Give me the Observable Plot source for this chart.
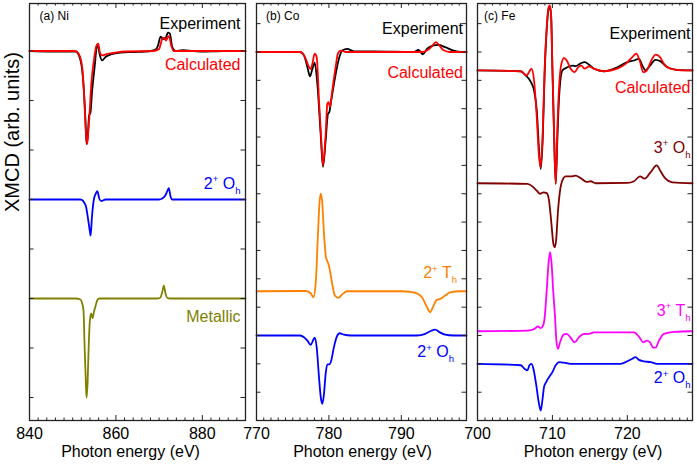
<!DOCTYPE html>
<html><head><meta charset="utf-8">
<script src="https://cdn.jsdelivr.net/npm/d3@7"></script>
<script src="https://cdn.jsdelivr.net/npm/@observablehq/plot@0.6"></script>
<style>
html,body{margin:0;padding:0;background:#fff;}
#chart{position:relative;width:697px;height:467px;overflow:hidden;font-family:"Liberation Sans",Arial,sans-serif;}
#chart svg{position:absolute;top:0;}
</style></head><body><div id="chart"></div>
<script>
// ---------- (a) Ni : [photon energy (eV), XMCD (arb.)] ----------
const niExperiment = [[840,7.0],[845,6.99],[850.7,6.99],[851.4,6.92],[852.2,6.61],[852.6,6.2],[853.0,5.5],[853.2,5.12],[853.5,5.3],[853.8,5.7],[854.1,5.75],[854.5,6.2],[855.1,6.7],[855.5,7.05],[855.8,7.14],[856.2,6.95],[856.8,6.81],[857.6,6.88],[858.8,6.93],[861.1,6.97],[864.2,6.98],[868,7.0],[869.2,7.03],[869.7,7.1],[870.35,7.29],[871.0,7.24],[871.5,7.26],[872.05,7.37],[872.5,7.35],[873.05,7.08],[873.8,7.0],[875.4,7.02],[879.6,6.99],[885,7.0],[890,7.0]];
const niCalculated = [[840,7.0],[850.5,7.0],[851.4,6.94],[852.2,6.67],[852.7,6.0],[853.1,5.3],[853.35,5.12],[853.6,5.35],[853.85,5.66],[854.3,6.33],[854.9,6.81],[855.5,7.11],[855.9,7.15],[856.3,6.97],[856.8,6.91],[858,6.94],[859.5,6.96],[862,6.99],[868.8,7.0],[870.0,7.04],[870.7,7.24],[871.2,7.27],[871.6,7.21],[872.0,7.28],[872.3,7.3],[872.8,7.11],[873.4,7.0],[890,7.0]];
const niOh2 = [[840,4.0],[851.8,4.0],[853.0,3.88],[853.5,3.64],[854.0,3.34],[854.15,3.27],[854.45,3.64],[854.9,4.0],[855.3,4.11],[855.7,4.17],[856.15,4.02],[856.6,3.97],[857.6,4.0],[870.0,4.0],[870.7,4.02],[871.5,4.09],[872.0,4.19],[872.25,4.23],[872.65,4.06],[873.05,4.0],[890,4.0]];
const niMetallic = [[840,2.0],[850.7,2.0],[851.8,1.98],[852.2,1.9],[852.5,1.76],[852.74,1.08],[853.05,0.28],[853.21,0.0],[853.44,0.28],[853.67,0.95],[853.98,1.56],[854.28,1.7],[854.6,1.6],[854.9,1.72],[855.3,1.85],[855.7,1.97],[856.15,2.0],[869.5,2.0],[870.2,2.01],[870.74,2.13],[871.1,2.26],[871.5,2.09],[871.9,2.01],[872.5,2.0],[890,2.0]];
const niMajorTicks = [840, 860, 880];
const niLabelText = ["Experiment", "Calculated", "2^{+} O_{h}", "Metallic"];

// ---------- (b) Co ----------
const coExperiment = [[770,12],[776.0,12.0],[776.56,11.88],[777.03,11.46],[777.39,11.14],[777.71,11.4],[778.03,11.62],[778.4,10.88],[778.86,9.11],[779.18,7.95],[779.55,8.88],[779.87,9.82],[780.05,9.88],[780.32,10.29],[780.78,11.0],[781.38,11.76],[781.84,12.05],[782.53,12.11],[783.44,12.02],[786.2,12.02],[791.7,12.0],[792.38,12.07],[792.98,11.92],[793.54,12.11],[794.45,12.23],[795.13,12.25],[796.05,12.17],[797.2,12.05],[798.35,12.0],[799,12.0]];
const coCalculated = [[770,12],[776.0,12.0],[776.34,11.96],[776.8,11.76],[777.25,11.46],[777.48,11.4],[777.71,11.58],[778.03,11.94],[778.31,11.82],[778.63,10.29],[778.95,8.88],[779.18,8.0],[779.55,9.11],[779.78,10.17],[779.96,10.23],[780.14,10.05],[780.46,10.64],[780.92,11.46],[781.24,11.94],[781.61,12.05],[782.3,12.0],[791.7,12.0],[792.85,12.0],[793.54,12.05],[794.2,12.19],[794.77,12.35],[795.13,12.27],[795.8,12.07],[796.7,12.0],[799,12.0]];
const coTh2 = [[770,3.56],[776.8,3.57],[777.48,3.49],[777.85,3.35],[778.17,3.82],[778.49,5.59],[778.72,6.76],[778.9,7.0],[779.09,6.65],[779.32,5.59],[779.59,4.76],[779.92,4.53],[780.14,4.29],[780.46,3.82],[780.82,3.41],[781.29,3.33],[781.84,3.45],[782.53,3.56],[789.86,3.56],[791.7,3.52],[792.85,3.35],[793.54,3.0],[793.99,2.82],[794.36,3.0],[794.91,3.26],[795.36,3.29],[796.05,3.41],[796.74,3.52],[798.1,3.56],[799,3.56]];
const coOh2 = [[770,2.0],[776.0,2.0],[776.56,1.94],[777.03,1.82],[777.48,1.67],[777.85,1.85],[778.03,1.92],[778.31,1.59],[778.63,0.53],[778.9,-0.23],[779.09,-0.41],[779.32,-0.06],[779.55,0.65],[779.78,0.98],[780.05,0.98],[780.32,1.12],[780.69,1.59],[781.16,2.0],[781.47,2.08],[782.07,2.03],[783,2.0],[792.16,2.0],[793.3,2.06],[793.99,2.15],[794.68,2.21],[795.27,2.12],[796.05,2.03],[797.2,2.0],[799,2.0]];
const coMajorTicks = [770, 780, 790];
const coLabelText = ["Experiment", "Calculated", "2^{+} T_{h}", "2^{+} O_{h}"];

// ---------- (c) Fe ----------
const feExperiment = [[700,11.35],[705.77,11.32],[706.44,11.17],[706.88,11.05],[707.2,10.9],[707.55,10.64],[707.91,9.94],[708.22,8.53],[708.44,7.88],[708.7,8.9],[708.97,11.3],[709.24,12.8],[709.47,13.5],[709.64,13.6],[709.82,13.3],[710.0,11.4],[710.22,9.1],[710.44,7.35],[710.67,9.0],[710.89,10.41],[711.33,11.35],[712.0,11.46],[712.67,11.52],[713.1,11.5],[713.77,11.6],[714.31,11.64],[714.89,11.55],[715.55,11.41],[716.89,11.32],[718.67,11.46],[720.0,11.64],[720.89,11.7],[721.55,11.76],[722.0,11.52],[722.44,11.35],[723.02,11.52],[723.77,11.72],[724.44,11.67],[725.33,11.46],[726.67,11.37],[728.7,11.35]];
const feCalculated = [[700,11.35],[705.77,11.32],[706.57,11.17],[706.88,11.29],[707.2,11.41],[707.55,10.99],[707.91,9.7],[708.22,8.29],[708.44,7.94],[708.7,9.11],[708.97,11.46],[709.24,12.87],[709.47,13.55],[709.64,13.64],[709.82,13.35],[710.0,11.46],[710.22,9.11],[710.44,7.35],[710.67,9.35],[710.89,10.76],[711.2,11.58],[711.55,11.79],[711.91,11.7],[712.44,11.41],[712.97,11.29],[713.42,11.46],[713.87,11.52],[714.31,11.41],[714.89,11.49],[715.55,11.41],[716.89,11.32],[718.67,11.41],[719.77,11.58],[720.67,11.82],[721.2,11.94],[721.64,11.7],[722.13,11.29],[722.57,11.34],[723.2,11.7],[723.77,11.91],[724.31,11.84],[724.88,11.58],[725.77,11.41],[727.1,11.35],[728.7,11.35]];
const feOh3 = [[700,7.37],[706.67,7.35],[707.33,7.26],[707.91,7.11],[708.35,7.0],[708.8,7.05],[709.24,7.02],[709.55,6.76],[709.87,5.94],[710.13,5.23],[710.31,5.11],[710.49,5.35],[710.75,6.41],[711.02,7.11],[711.33,7.47],[711.77,7.61],[712.44,7.61],[713.1,7.64],[713.77,7.55],[714.57,7.42],[715.1,7.44],[715.77,7.37],[720,7.38],[720.89,7.44],[721.69,7.61],[722.31,7.53],[723.11,7.76],[723.91,8.0],[724.44,7.79],[725.1,7.53],[726,7.4],[728.7,7.37]];
const feTh3 = [[700,2.15],[706.67,2.17],[707.64,2.24],[708.08,2.32],[708.44,2.26],[708.75,2.35],[708.97,2.65],[709.24,3.59],[709.5,4.6],[709.69,4.94],[709.9,4.5],[710.1,3.59],[710.35,2.65],[710.53,1.82],[710.75,1.53],[711.02,1.76],[711.47,2.03],[711.91,2.06],[712.44,1.92],[712.97,1.76],[713.55,1.94],[714.22,2.06],[714.89,2.06],[715.55,2.11],[720.89,2.11],[721.55,1.96],[722.13,1.76],[722.57,1.82],[723.02,1.76],[723.47,1.57],[723.77,1.57],[724.22,1.82],[724.88,2.06],[726.22,2.13],[728.7,2.15]];
const feOh2 = [[700,1.0],[705.77,0.95],[706.31,0.82],[706.67,0.77],[706.93,0.95],[707.2,1.0],[707.47,0.82],[707.82,0.29],[708.17,-0.35],[708.44,-0.65],[708.66,-0.29],[708.88,0.18],[709.15,0.35],[709.55,0.53],[710,0.71],[710.44,0.95],[710.89,1.06],[711.55,1.04],[712.44,1.0],[719.1,1.0],[720,1.09],[720.67,1.18],[721.11,1.24],[721.55,1.14],[722.22,1.09],[723.11,1.06],[724,1.0],[728.7,1.0]];
const feMajorTicks = [700, 710, 720];
const feLabelText = ["Experiment", "Calculated", "3^{+} O_{h}", "3^{+} T_{h}", "2^{+} O_{h}"];

const panelTitles = ["(a) Ni", "(b) Co", "(c) Fe"];
const xTitle = "Photon energy (eV)";
const yTitle = "XMCD (arb. units)";

// ---------- layout / styles ----------
const TOP = 3, BOTTOM = 420, H = 467;
const C = {black: "#000000", red: "#ff0000", blue: "#0000ff", olive: "#808000", orange: "#ff8000", darkred: "#800000", magenta: "#ff00ff"};

const panels = [
  {left: 0, frameL: 29, frameR: 245, xd: [840, 890], minorStep: 2, yd: [-0.465, 7.96], yTicks: d3.range(0, 8),
   major: niMajorTicks, title: panelTitles[0], titleDx: 10, xTitleDx: -7,
   series: [[niExperiment, C.black], [niCalculated, C.red], [niOh2, C.blue], [niMetallic, C.olive]],
   labels: [[0, 7.55, C.black, 0], [1, 6.71, C.red, 0], [2, 4.32, C.blue, 0], [3, 1.62, C.olive, 0]], labelText: niLabelText, labelDx: -5, yTitle: true},
  {left: 226, frameL: 256, frameR: 466, xd: [770, 799], minorStep: 1, yd: [-0.998, 13.71], yTicks: d3.range(0, 14),
   major: coMajorTicks, title: panelTitles[1], titleDx: 9.5, xTitleDx: 1,
   series: [[coExperiment, C.black], [coCalculated, C.red], [coTh2, C.orange], [coOh2, C.blue]],
   labels: [[0, 12.83, C.black, 0], [1, 11.28, C.red, 0], [2, 4.2, C.orange, -6], [3, 1.42, C.blue, -9]], labelText: coLabelText, labelDx: -3.5},
  {left: 447, frameL: 477, frameR: 692, xd: [700, 728.7], minorStep: 1, yd: [-0.998, 13.71], yTicks: d3.range(0, 14),
   major: feMajorTicks, title: panelTitles[2], titleDx: 6.5, xTitleDx: 8,
   series: [[feExperiment, C.black], [feCalculated, C.red], [feOh3, C.darkred], [feTh3, C.magenta], [feOh2, C.blue]],
   labels: [[0, 12.63, C.black, 0], [1, 10.75, C.red, 0], [2, 8.63, C.darkred, 0], [3, 2.88, C.magenta, 0], [4, 0.5, C.blue, 0]], labelText: feLabelText, labelDx: -2}
];

function richify(svg) {
  d3.select(svg).selectAll("text").each(function () {
    const s = this.textContent;
    if (!/[\^_]\{/.test(s)) return;
    const parts = s.match(/\^\{[^}]*\}|_\{[^}]*\}|[^\^_]+/g);
    this.textContent = "";
    let shift = 0;
    for (const part of parts) {
      const ts = document.createElementNS("http://www.w3.org/2000/svg", "tspan");
      let target = 0, txt = part, small = false;
      if (part.startsWith("^{")) { target = -6.5; txt = part.slice(2, -1); small = true; }
      else if (part.startsWith("_{")) { target = 5; txt = part.slice(2, -1); small = true; }
      ts.setAttribute("dy", target - shift);
      shift = target;
      if (small) ts.setAttribute("font-size", "0.6em");
      ts.textContent = txt;
      this.appendChild(ts);
    }
  });
}

const root = document.getElementById("chart");
for (const p of panels) {
  const width = p.frameR - p.left + 5;
  const marginLeft = p.frameL - p.left;
  const FH = BOTTOM - TOP, FW = p.frameR - p.frameL;
  const minor = d3.range(p.xd[0], p.xd[1] + 1e-9, p.minorStep).filter(v => !p.major.includes(v));
  const tickStyle = {stroke: "#222", strokeWidth: 1};
  const marks = [
    ...p.series.map(([data, color]) => Plot.line(data, {x: d => d[0], y: d => d[1], stroke: color, strokeWidth: 1.8, curve: "monotone-x"})),
    Plot.frame({stroke: "#222", strokeWidth: 1.3}),
    Plot.tickX(minor, {x: d => d, insetTop: FH - 2.5, ...tickStyle}),
    Plot.tickX(minor, {x: d => d, insetBottom: FH - 2.5, ...tickStyle}),
    Plot.tickX(p.major, {x: d => d, insetTop: FH - 5, ...tickStyle}),
    Plot.tickX(p.major, {x: d => d, insetBottom: FH - 5, ...tickStyle}),
    Plot.tickY(p.yTicks, {y: d => d, insetRight: FW - 4.5, ...tickStyle}),
    Plot.tickY(p.yTicks, {y: d => d, insetLeft: FW - 4.5, ...tickStyle}),
    Plot.axisX({ticks: p.major, tickSize: 0, tickPadding: 7, fontSize: 16, label: null, tickFormat: d => String(d)}),
    Plot.text([xTitle], {text: d => d, frameAnchor: "bottom", lineAnchor: "middle", dy: 31, dx: p.xTitleDx, fontSize: 16}),
    Plot.text([p.title], {text: d => d, frameAnchor: "top-left", lineAnchor: "middle", dx: p.titleDx, dy: 13, textAnchor: "start", fontSize: 12}),
    ...p.labels.map(([i, y, color, extraDx]) => Plot.text([p.labelText[i]], {text: d => d, y: () => y, frameAnchor: "right", lineAnchor: "middle", textAnchor: "end", dx: p.labelDx + extraDx, fill: color, fontSize: 16}))
  ];
  if (p.yTitle) marks.push(Plot.text([yTitle], {text: d => d, frameAnchor: "left", lineAnchor: "middle", dx: -17, rotate: -90, fontSize: 20}));
  const svg = Plot.plot({
    width, height: H,
    marginLeft, marginRight: width - marginLeft - FW, marginTop: TOP, marginBottom: H - BOTTOM,
    x: {domain: p.xd},
    y: {domain: p.yd, axis: null},
    style: {fontFamily: "'Liberation Sans', Arial, sans-serif", fontSize: "16px", background: "transparent", overflow: "visible", color: "#000"},
    marks
  });
  svg.style.left = p.left + "px";
  svg.style.position = "absolute";
  richify(svg);
  root.appendChild(svg);
}
</script></body></html>
